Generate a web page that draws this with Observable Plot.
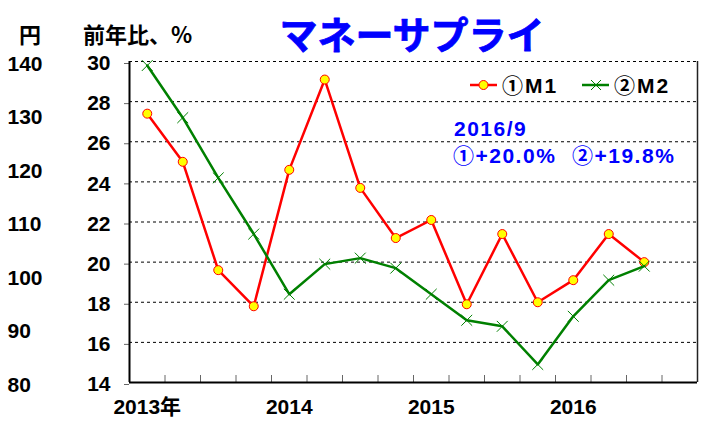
<!DOCTYPE html>
<html><head><meta charset="utf-8">
<script src="https://cdn.jsdelivr.net/npm/d3@7"></script>
<script src="https://cdn.jsdelivr.net/npm/@observablehq/plot@0.6"></script>
<style>
html,body{margin:0;padding:0;background:#fff;}
#wrap{position:relative;width:701px;height:426px;font-family:"Liberation Sans",Arial,"Noto Sans CJK JP",sans-serif;font-weight:bold;}
#wrap svg{position:absolute;left:0;top:0;}
.t{position:absolute;line-height:1.3;white-space:nowrap;transform:translateY(-50%);}
.blue{color:#0000ff;font-size:21px;letter-spacing:1.5px;}
.leg{font-size:21px;color:#000;letter-spacing:2px;}
.hdr{font-size:22px;color:#000;font-family:"Noto Sans CJK JP","Liberation Sans",sans-serif;}
.cj{font-family:"Noto Sans CJK JP",sans-serif;font-weight:bold;}
</style></head><body><div id="wrap"></div>
<script>
// Quarterly data, 2013Q1 .. 2016Q3 (前年比, %)
const periods = ["2013Q1","2013Q2","2013Q3","2013Q4","2014Q1","2014Q2","2014Q3","2014Q4","2015Q1","2015Q2","2015Q3","2015Q4","2016Q1","2016Q2","2016Q3"];
const m1 = [27.4, 25.0, 19.6, 17.8, 24.6, 29.1, 23.7, 21.2, 22.1, 17.9, 21.4, 18.0, 19.1, 21.4, 20.0];
const m2 = [29.8, 27.2, 24.2, 21.4, 18.4, 19.9, 20.2, 19.7, 18.4, 17.1, 16.8, 14.9, 17.3, 19.1, 19.8];
const yearLabels = ["2013年", "2014", "2015", "2016"];
const yearPeriods = ["2013Q1", "2014Q1", "2015Q1", "2016Q1"];
const pctTicks = [14, 16, 18, 20, 22, 24, 26, 28, 30];
const yenTicks = [80, 90, 100, 110, 120, 130, 140];
const seriesMarks = ["①", "②"];
const seriesNames = ["M1", "M2"];
const titleText = "マネーサプライ";
const yenTitle = "円";
const pctTitle = "前年比、%";
const noteDate = "2016/9";
const noteM1 = "+20.0%";
const noteM2 = "+19.8%";

const data = periods.map((p, i) => ({i, p, m1: m1[i], m2: m2[i]}));
const slotCount = 16;
const boundaries = d3.range(0.5, slotCount - 1, 1);
const yenToPct = v => 14 + (v - 80) * 16 / 60;

const plot = Plot.plot({
  width: 701, height: 426,
  marginLeft: 129, marginRight: 4, marginTop: 61, marginBottom: 44,
  x: {domain: [-0.5, slotCount - 0.5], axis: null},
  y: {domain: [14, 30], axis: null},
  style: {fontFamily: '"Liberation Sans", Arial, "Noto Sans CJK JP", sans-serif', fontWeight: "bold", background: "transparent", overflow: "visible", color: "#000"},
  marks: [
    Plot.ruleY(pctTicks.filter(d => d > 14), {stroke: "#000", strokeDasharray: "3,3", strokeWidth: 1}),
    Plot.ruleX([slotCount - 0.5], {stroke: "#222", strokeWidth: 1.5}),
    Plot.axisX({ticks: boundaries, tickSize: -7, tickFormat: () => "", label: null, stroke: "#666"}),
    Plot.axisY({ticks: pctTicks, tickSize: 5, tickPadding: 14, fontSize: 21, dy: 2, tickFormat: d => String(d), label: null, stroke: "#666"}),
    Plot.text(yenTicks, {y: yenToPct, text: d => String(d), frameAnchor: "left", textAnchor: "start", dx: -122, dy: 2.5, fontSize: 21, fill: "#000"}),
    Plot.text(yearPeriods, {x: d => periods.indexOf(d), text: (d, i) => yearLabels[i], frameAnchor: "bottom", dy: 31, fontSize: 21, fill: "#000"}),
    Plot.text([titleText], {frameAnchor: "top", dx: -1.5, dy: -39, fontSize: 38, fill: "#0000ff", stroke: "#0000ff", strokeWidth: 0.8, fontFamily: '"Noto Sans CJK JP", sans-serif', fontWeight: "bold"}),
    Plot.ruleX([-0.5], {stroke: "#000", strokeWidth: 2}),
    Plot.ruleY([14], {stroke: "#000", strokeWidth: 2}),
    Plot.line(data, {x: "i", y: "m1", stroke: "#ff0000", strokeWidth: 2.5}),
    Plot.dot(data, {x: "i", y: "m1", r: 4.5, fill: "#ffff00", stroke: "#ff0000", strokeWidth: 1}),
    Plot.line(data, {x: "i", y: "m2", stroke: "#008000", strokeWidth: 2.5}),
    Plot.dot(data, {x: "i", y: "m2", symbol: "times", r: 5, stroke: "#008000", strokeWidth: 1})
  ]
});

const wrap = document.getElementById("wrap");
wrap.appendChild(plot);

// legend symbols
const ns = "http://www.w3.org/2000/svg";
const ls = document.createElementNS(ns, "svg");
ls.setAttribute("width", 701); ls.setAttribute("height", 426);
ls.style.pointerEvents = "none";
ls.innerHTML =
  '<line x1="470" y1="85" x2="497" y2="85" stroke="#ff0000" stroke-width="2.5"/>' +
  '<circle cx="483.5" cy="85" r="4.5" fill="#ffff00" stroke="#ff0000" stroke-width="1"/>' +
  '<line x1="582" y1="85" x2="609" y2="85" stroke="#008000" stroke-width="2.5"/>' +
  '<path d="M591,80L601,90M591,90L601,80" stroke="#008000" stroke-width="1"/>';
wrap.appendChild(ls);

function addText(mark, txt, cls, left, cy) {
  const d = document.createElement("div");
  d.className = "t " + cls;
  if (mark) {
    const s = document.createElement("span");
    s.className = "cj";
    s.textContent = mark;
    d.appendChild(s);
  }
  d.appendChild(document.createTextNode(txt));
  d.style.left = left + "px";
  d.style.top = cy + "px";
  wrap.appendChild(d);
  return d;
}
addText(null, yenTitle, "hdr", 19, 33);
addText(null, pctTitle, "hdr", 83, 33);
addText(seriesMarks[0], seriesNames[0], "leg", 502, 85);
addText(seriesMarks[1], seriesNames[1], "leg", 614, 85);
addText(null, noteDate, "blue", 454, 129);
addText(seriesMarks[0], noteM1, "blue", 453, 155);
addText(seriesMarks[1], noteM2, "blue", 572, 155);
</script></body></html>
